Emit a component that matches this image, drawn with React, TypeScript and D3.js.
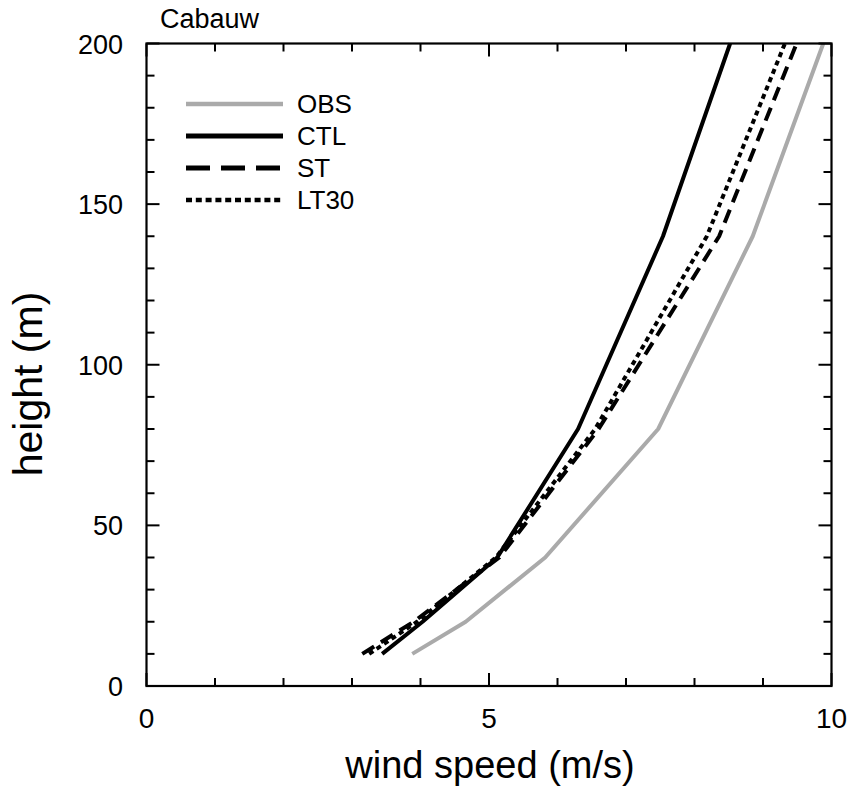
import React from "react";
import * as d3 from "d3";

const heights = [10, 20, 40, 80, 140, 200];
const obs = [3.88, 4.66, 5.82, 7.47, 8.85, 9.88];
const ctl = [3.44, 4.03, 5.12, 6.3, 7.54, 8.52];
const st = [3.15, 3.9, 5.15, 6.6, 8.36, 9.49];
const lt30 = [3.25, 3.95, 5.1, 6.55, 8.18, 9.32];

const seriesNames = ["OBS", "CTL", "ST", "LT30"];
const xTickLabels = [0, 5, 10];
const yTickLabels = [0, 50, 100, 150, 200];

const W = 848;
const H = 787;
const FONT = "'Liberation Sans', Arial, Helvetica, sans-serif";

export default function App() {
  const x = d3.scaleLinear().domain([0, 10]).range([146.5, 831.5]);
  const y = d3.scaleLinear().domain([0, 200]).range([686, 43.5]);

  const styles = [
    { color: "#aaaaaa", dash: "none", legendDash: "none", w: 4, lw: 4.5 },
    { color: "#000000", dash: "none", legendDash: "none", w: 4, lw: 5 },
    { color: "#000000", dash: "14,8", legendDash: "24,11", w: 4, lw: 5 },
    { color: "#000000", dash: "5,4", legendDash: "6,3.8", w: 4, lw: 4.5 },
  ];
  const data = [obs, ctl, st, lt30];

  const line = d3
    .line<[number, number]>()
    .x((d) => x(d[0]))
    .y((d) => y(d[1]));

  const xMinor = d3.range(0, 11, 1);
  const yMinor = d3.range(0, 201, 10);
  const [x0, x1] = x.range();
  const [y0, y1] = y.range();

  const tickLen = (major: boolean) => (major ? 13 : 8);

  return (
    <svg
      width={W}
      height={H}
      style={{ position: "absolute", left: 0, top: 0, background: "#fff" }}
      fontFamily={FONT}
    >
      <rect x={0} y={0} width={W} height={H} fill="#fff" />
      {data.map((vals, i) => (
        <path
          key={seriesNames[i]}
          d={line(vals.map((v, j) => [v, heights[j]] as [number, number])) || ""}
          fill="none"
          stroke={styles[i].color}
          strokeWidth={styles[i].w}
          strokeDasharray={styles[i].dash}
          strokeLinejoin="round"
        />
      ))}

      <rect
        x={x0}
        y={y1}
        width={x1 - x0}
        height={y0 - y1}
        fill="none"
        stroke="#000"
        strokeWidth={2.2}
      />
      {xMinor.map((v) => {
        const major = v % 5 === 0;
        const L = tickLen(major);
        return (
          <g key={"xt" + v} stroke="#000" strokeWidth={2}>
            <line x1={x(v)} x2={x(v)} y1={y0} y2={y0 - L} />
            <line x1={x(v)} x2={x(v)} y1={y1} y2={y1 + L} />
          </g>
        );
      })}
      {yMinor.map((v) => {
        const major = v % 50 === 0;
        const L = tickLen(major);
        return (
          <g key={"yt" + v} stroke="#000" strokeWidth={2}>
            <line x1={x0} x2={x0 + L} y1={y(v)} y2={y(v)} />
            <line x1={x1} x2={x1 - L} y1={y(v)} y2={y(v)} />
          </g>
        );
      })}

      {xTickLabels.map((v) => (
        <text
          key={"xl" + v}
          x={x(v)}
          y={728}
          textAnchor="middle"
          fontSize={28}
          fill="#000"
        >
          {v}
        </text>
      ))}
      {yTickLabels.map((v) => (
        <text
          key={"yl" + v}
          x={123}
          y={y(v) + 10}
          textAnchor="end"
          fontSize={27}
          fill="#000"
        >
          {v}
        </text>
      ))}

      <text x={490} y={778} textAnchor="middle" fontSize={38} fill="#000">
        wind speed (m/s)
      </text>
      <text
        transform={`translate(42, 384) rotate(-90)`}
        textAnchor="middle"
        fontSize={41}
        fill="#000"
      >
        height (m)
      </text>

      <text x={160} y={28} fontSize={27} fill="#000">
        Cabauw
      </text>

      {seriesNames.map((name, i) => {
        const ly = 104 + i * 32;
        return (
          <g key={"lg" + name}>
            <line
              x1={186}
              x2={283}
              y1={ly}
              y2={ly}
              stroke={styles[i].color}
              strokeWidth={styles[i].lw}
              strokeDasharray={styles[i].legendDash}
            />
            <text x={297} y={ly + 9} fontSize={26} fill="#000">
              {name}
            </text>
          </g>
        );
      })}
    </svg>
  );
}
